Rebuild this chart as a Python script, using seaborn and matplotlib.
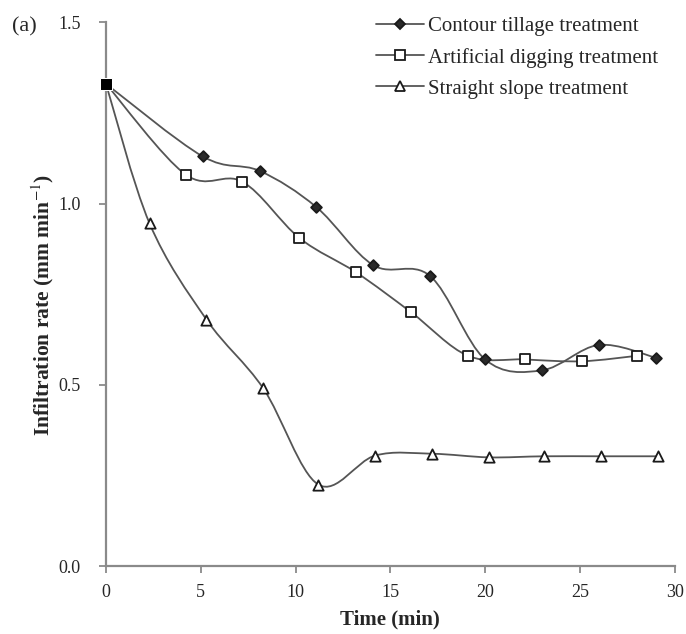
import numpy as np
import matplotlib.pyplot as plt
import seaborn as sns
from matplotlib.path import Path
from matplotlib.patches import PathPatch
from matplotlib.lines import Line2D

# values
contour_time = [0, 5.1, 8.1, 11.1, 14.1, 17.1, 20.0, 23.0, 26.0, 29.0]
contour_rate = [1.33, 1.13, 1.09, 0.99, 0.83, 0.80, 0.57, 0.54, 0.61, 0.575]
digging_time = [0, 4.2, 7.2, 10.2, 13.2, 16.1, 19.1, 22.1, 25.1, 28.0]
digging_rate = [1.33, 1.08, 1.06, 0.905, 0.81, 0.70, 0.58, 0.57, 0.565, 0.58]
straight_time = [0, 2.3, 5.3, 8.3, 11.2, 14.2, 17.2, 20.2, 23.1, 26.1, 29.1]
straight_rate = [1.33, 0.945, 0.68, 0.49, 0.225, 0.305, 0.31, 0.30, 0.303, 0.303, 0.303]

labels = ['Contour tillage treatment', 'Artificial digging treatment', 'Straight slope treatment']

sns.set_style('ticks')
plt.rcParams['font.family'] = ['Liberation Serif', 'DejaVu Serif']
plt.rcParams['mathtext.fontset'] = 'stix'

line_col = '#555555'
axis_col = '#8a8a8a'
edge_col = '#1a1a1a'


def smooth_path(x, y):
    # excel-like smoothed line: bezier segments through the data points
    pts = np.column_stack([x, y]).astype(float)
    n = len(pts)
    verts = [pts[0]]
    codes = [Path.MOVETO]
    for i in range(n - 1):
        p0 = pts[max(i - 1, 0)]
        p1 = pts[i]
        p2 = pts[i + 1]
        p3 = pts[min(i + 2, n - 1)]
        verts += [p1 + (p2 - p0) / 6, p2 - (p3 - p1) / 6, p2]
        codes += [Path.CURVE4] * 3
    return Path(verts, codes)


fig = plt.figure(figsize=(6.86, 6.34), dpi=100)
ax = fig.add_axes([0.1545, 0.107, 0.829, 0.858])

series = [
    (contour_time, contour_rate, 'D', 30, '#2a2a2a'),
    (digging_time, digging_rate, 's', 55, 'white'),
    (straight_time, straight_rate, '^', 55, 'white'),
]

for x, y, m, s, fc in series:
    ax.add_patch(PathPatch(smooth_path(x, y), facecolor='none', edgecolor=line_col, lw=1.3, zorder=2))
    sns.scatterplot(x=x, y=y, marker=m, s=s, color=fc, edgecolor=edge_col, linewidth=1.3,
                    ax=ax, zorder=3, clip_on=False)

# solid start point shared by all three series
sns.scatterplot(x=[contour_time[0]], y=[contour_rate[0]], marker='s', s=85, color='black',
                ax=ax, zorder=4, clip_on=False)

ax.set_xlim(0, 30)
ax.set_ylim(0, 1.5)
ax.set_xticks([0, 5, 10, 15, 20, 25, 30])
ax.set_yticks([0.0, 0.5, 1.0, 1.5])
ax.set_yticklabels(['0.0', '0.5', '1.0', '1.5'])
ax.tick_params(axis='both', labelsize=13, color=axis_col, length=5, width=1.3)
ax.tick_params(axis='x', pad=8)
ax.tick_params(axis='y', pad=13)
sns.despine(ax=ax)
for sp in ['left', 'bottom']:
    ax.spines[sp].set_color(axis_col)
    ax.spines[sp].set_linewidth(1.6)

ax.set_xlabel('Time (min)', fontsize=15, fontweight='bold', labelpad=6)
ax.set_ylabel('Infiltration rate (mm min$^{-1}$)', fontsize=15.5, fontweight='bold')
ax.yaxis.set_label_coords(-0.088, 0.48)

handles = []
for x, y, m, s, fc in series:
    handles.append(Line2D([], [], color=line_col, lw=1.3, marker=m, markersize=np.sqrt(s),
                          markerfacecolor=fc, markeredgecolor=edge_col, markeredgewidth=1.3))
ax.legend(handles, labels, loc='upper left', bbox_to_anchor=(0.475, 1.01), frameon=False,
          borderaxespad=0, borderpad=0, fontsize=15, handlelength=2.3, handletextpad=0.2,
          labelspacing=0.55)

fig.text(0.018, 0.957, '(a)', fontsize=16, va='center')

fig.savefig('out.png', dpi=100)
